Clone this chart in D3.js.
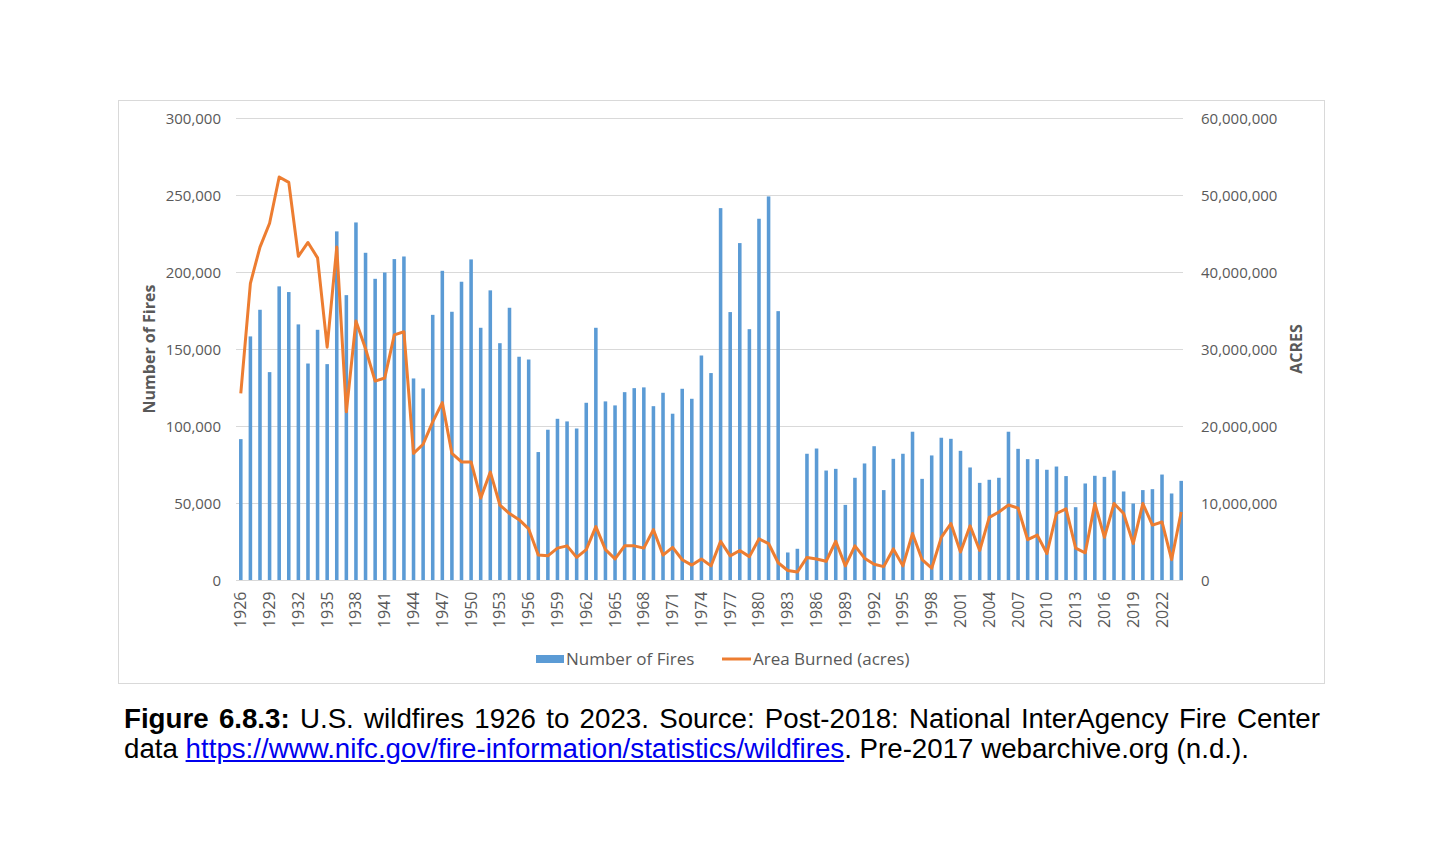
<!DOCTYPE html>
<html>
<head>
<meta charset="utf-8">
<script src="https://cdn.jsdelivr.net/npm/d3@7"></script>
<style>
  body { margin: 0; background: #fff; }
  #chart { position: absolute; left: 0; top: 0; }
  .caption {
    position: absolute; left: 124px; top: 704px; width: 1196px;
    font-family: "Liberation Sans", Arial, sans-serif; font-size: 27.7px;
    line-height: 30px; text-align: justify; color: #000;
  }
  .caption a { color: #0000ee; text-decoration: underline; }
</style>
</head>
<body>
<div id="chart"></div>
<script>
var years = d3.range(1926, 2025);
var tickYears = d3.range(1926, 2025, 3);

// number of fires per year
var fires = [
  91800, 158500, 175800, 135300, 191000, 187300, 166300, 140900, 162800, 140500,
  226700, 185300, 232500, 212800, 195900, 200000, 208700, 210400, 131200, 124700,
  172500, 201100, 174500, 194000, 208500, 164100, 188400, 154100, 177100, 145300,
  143500, 83400, 97900, 105000, 103300, 98700, 115400, 164100, 116300, 113700,
  122300, 124900, 125400, 113200, 121900, 108300, 124500, 118000, 146100, 134700,
  241800, 174300, 219100, 163200, 234900, 249400, 174900, 18200, 20600, 82300,
  85700, 71400, 72500, 49100, 66700, 76000, 87200, 58700, 79000, 82300,
  96600, 66000, 81200, 92700, 92000, 84200, 73400, 63400, 65400, 66700,
  96600, 85500, 78800, 78800, 71900, 74000, 67800, 47600, 63000, 68000,
  67300, 71400, 57800, 50000, 58700, 59300, 68800, 56500, 64700
];

// area burned, millions of acres
var acresM = [
  24.3, 38.6, 43.3, 46.4, 52.4, 51.7, 42.1, 43.9, 41.9, 30.3,
  43.3, 21.9, 33.7, 30.1, 25.9, 26.3, 31.9, 32.3, 16.5, 17.7,
  20.6, 23.1, 16.5, 15.4, 15.4, 10.7, 14.1, 9.8, 8.7, 7.9,
  6.7, 3.3, 3.2, 4.2, 4.5, 3.0, 4.0, 7.0, 4.0, 2.8,
  4.5, 4.5, 4.2, 6.6, 3.3, 4.3, 2.7, 2.0, 2.8, 1.9,
  5.1, 3.2, 3.9, 3.1, 5.4, 4.8, 2.3, 1.3, 1.1, 3.0,
  2.8, 2.5, 5.1, 1.9, 4.5, 2.9, 2.1, 1.8, 4.1, 1.9,
  6.1, 2.7, 1.6, 5.6, 7.4, 3.7, 7.1, 3.9, 8.2, 8.9,
  9.8, 9.4, 5.3, 5.9, 3.5, 8.7, 9.3, 4.2, 3.6, 10.0,
  5.6, 10.0, 8.7, 4.8, 10.0, 7.2, 7.6, 2.7, 8.9
];

var leftTicks = [0, 50000, 100000, 150000, 200000, 250000, 300000];
var rightTicks = [0, 10000000, 20000000, 30000000, 40000000, 50000000, 60000000];

var W = 1446, H = 842;
var plotLeft = 236, plotRight = 1186, plotTop = 118.5, plotBottom = 580.5;
var grey = "#595959";
var font = "'Open Sans', sans-serif";

var svg = d3.select("#chart").append("svg").attr("width", W).attr("height", H);

// chart frame
svg.append("rect")
  .attr("x", 118.5).attr("y", 100.5).attr("width", 1206).attr("height", 583)
  .attr("fill", "#fff").attr("stroke", "#d9d9d9");

var x = d3.scaleBand().domain(years).range([plotLeft, plotRight]).paddingInner(0.63).paddingOuter(0.315);
var y = d3.scaleLinear().domain([0, 300000]).range([plotBottom, plotTop]);
var y2 = d3.scaleLinear().domain([0, 60000000]).range([plotBottom, plotTop]);

// gridlines
svg.append("g").selectAll("line").data(leftTicks.slice(1)).join("line")
  .attr("x1", plotLeft).attr("x2", plotRight - 3)
  .attr("y1", d => y(d)).attr("y2", d => y(d))
  .attr("stroke", "#d9d9d9").attr("stroke-width", 1);

// left axis
var yAxis = svg.append("g")
  .attr("transform", "translate(" + (plotLeft - 12) + ",0)")
  .call(d3.axisLeft(y).tickValues(leftTicks).tickSize(0).tickFormat(d3.format(",")));
yAxis.select(".domain").remove();
yAxis.selectAll("text").attr("font-family", font).attr("font-size", 15).attr("fill", grey).attr("dy", "0.35em");

// right axis
var y2Axis = svg.append("g")
  .attr("transform", "translate(" + (plotRight + 12) + ",0)")
  .call(d3.axisRight(y2).tickValues(rightTicks).tickSize(0).tickFormat(d3.format(",")));
y2Axis.select(".domain").remove();
y2Axis.selectAll("text").attr("font-family", font).attr("font-size", 15).attr("fill", grey).attr("dy", "0.35em");

// bars
svg.append("g").selectAll("rect").data(years).join("rect")
  .attr("x", d => x(d))
  .attr("width", x.bandwidth())
  .attr("y", (d, i) => y(fires[i]))
  .attr("height", (d, i) => plotBottom - y(fires[i]))
  .attr("fill", "#5b9bd5");

// x axis line
svg.append("line")
  .attr("x1", plotLeft).attr("x2", plotRight - 3)
  .attr("y1", plotBottom).attr("y2", plotBottom)
  .attr("stroke", "#d9d9d9");

// x tick labels
svg.append("g").selectAll("text").data(tickYears).join("text")
  .attr("transform", d => "translate(" + (x(d) + x.bandwidth() / 2 + 5.5) + "," + (plotBottom + 11) + ") rotate(-90)")
  .attr("text-anchor", "end")
  .attr("font-family", font).attr("font-size", 16).attr("fill", grey)
  .text(d => d);

// area line
var line = d3.line()
  .x(d => x(d) + x.bandwidth() / 2)
  .y((d, i) => y2(acresM[i] * 1e6));
svg.append("path")
  .datum(years)
  .attr("d", line)
  .attr("fill", "none")
  .attr("stroke", "#ed7d31")
  .attr("stroke-width", 3)
  .attr("stroke-linejoin", "round");

// axis titles
svg.append("text")
  .attr("transform", "translate(155,349) rotate(-90)")
  .attr("text-anchor", "middle")
  .attr("font-family", font).attr("font-size", 16).attr("font-weight", "bold").attr("fill", grey)
  .text("Number of Fires");
svg.append("text")
  .attr("transform", "translate(1302,349) rotate(-90)")
  .attr("text-anchor", "middle")
  .attr("font-family", font).attr("font-size", 16).attr("font-weight", "bold").attr("fill", grey)
  .text("ACRES");

// legend
var legend = svg.append("g");
legend.append("rect").attr("x", 536).attr("y", 655).attr("width", 28).attr("height", 8).attr("fill", "#5b9bd5");
legend.append("text").attr("x", 566).attr("y", 665)
  .attr("font-family", font).attr("font-size", 17).attr("fill", grey).text("Number of Fires");
legend.append("line").attr("x1", 722).attr("x2", 751).attr("y1", 659).attr("y2", 659)
  .attr("stroke", "#ed7d31").attr("stroke-width", 3);
legend.append("text").attr("x", 753).attr("y", 665)
  .attr("font-family", font).attr("font-size", 17).attr("fill", grey).text("Area Burned (acres)");

// caption
var cap = d3.select("body").append("div").attr("class", "caption");
cap.html('<b>Figure 6.8.3:</b> U.S. wildfires 1926 to 2023. Source: Post-2018: National InterAgency Fire Center data ' +
  '<a href="https://www.nifc.gov/fire-information/statistics/wildfires">https://www.nifc.gov/fire-information/statistics/wildfires</a>. ' +
  'Pre-2017 webarchive.org (n.d.).');
</script>
</body>
</html>
